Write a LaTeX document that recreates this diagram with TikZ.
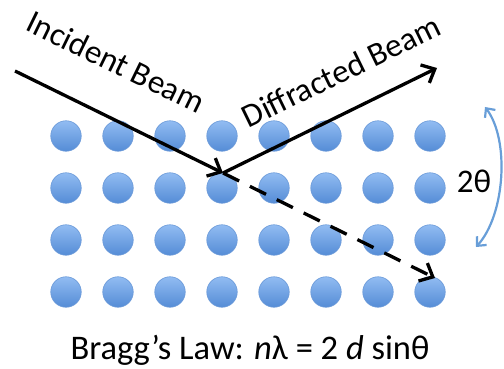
\documentclass[tikz,border=0pt]{standalone}
\usepackage{fontspec}
\setmainfont{Carlito}
\usepackage{tikz}
\usetikzlibrary{arrows.meta,positioning,calc}
\definecolor{atomtop}{RGB}{146,188,242}
\definecolor{atombot}{RGB}{84,140,214}
\definecolor{atomrim}{RGB}{104,152,216}
\definecolor{arcblue}{RGB}{104,158,216}

\begin{document}
\begin{tikzpicture}[x=1pt,y=-1pt,
  atom/.style={circle,minimum size=30.5pt,inner sep=0pt,top color=atomtop,bottom color=atombot,draw=atomrim,line width=0.6pt},
  beam/.style={line width=3.3pt,-{Straight Barb[length=11pt,width=20pt,line width=3.3pt]}},
  label/.style={inner sep=0pt,font=\fontsize{33}{38}\selectfont}
]
\useasboundingbox (0,0) rectangle (504,369);
% lattice of atoms
\foreach \r in {0,...,3}
  \foreach \c in {0,...,7}
    \node[atom] (a-\r-\c) at ({66+52*\c},{136+52*\r}) {};
% beams
\coordinate (src) at (15,71);
\coordinate (hit) at (223,173);
\coordinate (out) at (437,68);
\coordinate (pass) at (435,278);
\draw[beam] (src) -- (hit);
\draw[beam] (hit) -- (out);
\draw[beam,dash pattern=on 18pt off 12pt] (hit) -- (pass);
% labels
\node[label,rotate=-26] (inc) at (116,62) {Incident Beam};
\node[label,rotate=26] (dif) at (341,71) {Diffracted Beam};
\node[label,anchor=base] (ang) at (474,192) {2θ};
\node[label,anchor=base,font=\fontsize{34.5}{40}\selectfont] (law) at (250,359) {Bragg’s Law: \textit{n}λ = 2 \textit{d} sinθ};
% angle arc
\coordinate (arcA) at (485,107);
\coordinate (arcB) at (476,247);
\draw[arcblue,line width=2.2pt,{Straight Barb[length=7pt,width=13pt]}-{Straight Barb[length=7pt,width=13pt]}]
  (arcA) .. controls (510,140) and (505,215) .. (arcB);
\end{tikzpicture}
\end{document}
